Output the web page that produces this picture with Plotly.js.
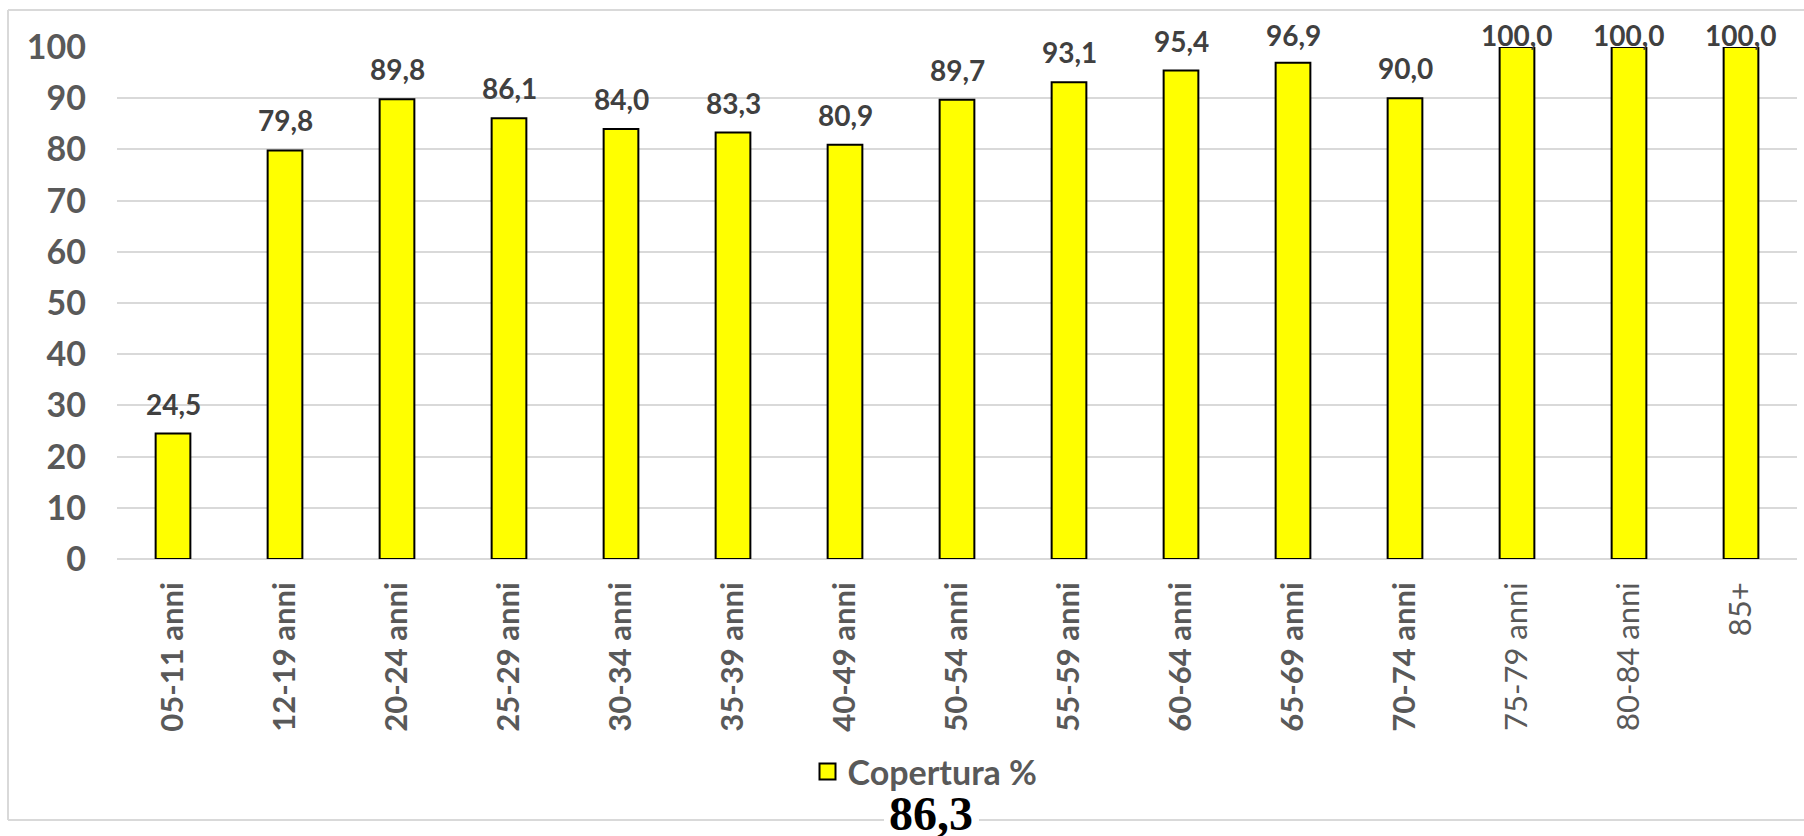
<!DOCTYPE html>
<html>
<head>
<meta charset="utf-8">
<script src="https://cdn.plot.ly/plotly-3.0.1.min.js"></script>
<style>html,body{margin:0;padding:0;background:#fff;}</style>
</head>
<body>
<div id="chart" style="width:1804px;height:836px;"></div>
<script>
// ---- data ----
const categories = ["05-11 anni","12-19 anni","20-24 anni","25-29 anni","30-34 anni","35-39 anni","40-49 anni","50-54 anni","55-59 anni","60-64 anni","65-69 anni","70-74 anni","75-79 anni","80-84 anni","85+"];
const coverage = [24.5, 79.8, 89.8, 86.1, 84.0, 83.3, 80.9, 89.7, 93.1, 95.4, 96.9, 90.0, 100.0, 100.0, 100.0];
const seriesName = "Copertura %";
const totalCoverage = "86,3";
const yTicks = [0,10,20,30,40,50,60,70,80,90,100];

// ---- layout geometry ----
const W = 1804, H = 836;
const mL = 117, mR = 7, mT = 47, mB = 277;
const plotH = H - mT - mB;
const yMax = 100;
const pxPerUnit = plotH / yMax;

const fmt = v => v.toFixed(1).replace('.', ',');

// tick labels: last three drawn in a lighter weight, as in the source
const tickText = categories.map((c, i) => i >= 12 ? '<span style="font-weight:normal">' + c + '</span>' : c);

const barFill = '#ffff00';
const barLine = {color: '#000000', width: 2};

const bar = {
  type: 'bar',
  x: categories,
  y: coverage,
  name: seriesName,
  showlegend: false,
  marker: {color: barFill, line: barLine},
  cliponaxis: false,
  hoverinfo: 'x+y'
};

// legend entry with a larger square key (same series)
const legendKey = {
  type: 'scatter', mode: 'markers',
  x: [null], y: [null],
  name: seriesName, showlegend: true,
  marker: {symbol: 'square', size: 20, color: barFill, line: barLine},
  hoverinfo: 'skip'
};

// data labels: 18px above the bar top, clamped so they stay inside the chart area
const labelAnn = coverage.map((v, i) => {
  const lift = Math.min(18, (yMax - v) * pxPerUnit - 0.3);
  return {
    x: categories[i], y: v, xref: 'x', yref: 'y',
    text: fmt(v), showarrow: false,
    yanchor: 'bottom', xanchor: 'center',
    yshift: lift - 6, borderpad: 0,
    font: {family: 'Lato', size: 28, color: '#404040', weight: 'bold'}
  };
});

const toPaperY = px => (H - mB - px) / plotH;
const toPaperX = px => (px - mL) / (W - mL - mR);

// chart-area border (open at the bottom where the total value sits)
const borderStyle = {color: '#d9d9d9', width: 2};
const bx0 = toPaperX(8), bx1 = toPaperX(1812), by0 = toPaperY(820), by1 = toPaperY(10);
const gapL = toPaperX(884), gapR = toPaperX(979);
const border = [
  [bx0, by0, bx0, by1], [bx0, by1, bx1, by1],
  [bx0, by0, gapL, by0], [gapR, by0, bx1, by0]
].map(s => ({type: 'line', xref: 'paper', yref: 'paper', layer: 'below',
  x0: s[0], y0: s[1], x1: s[2], y1: s[3], line: borderStyle}));

const layout = {
  width: W, height: H,
  margin: {l: mL, r: mR, t: mT, b: mB},
  paper_bgcolor: '#ffffff', plot_bgcolor: '#ffffff',
  bargap: 0.69,
  showlegend: true,
  legend: {
    orientation: 'h', x: toPaperX(925), y: toPaperY(772),
    xanchor: 'center', yanchor: 'middle',
    itemsizing: 'trace', itemwidth: 30,
    font: {family: 'Lato', size: 34, color: '#595959', weight: 'bold'},
    bgcolor: 'rgba(0,0,0,0)'
  },
  xaxis: {
    type: 'category',
    tickvals: categories, ticktext: tickText,
    tickangle: -90,
    ticks: '', showgrid: false, showline: false, zeroline: false,
    ticklabelstandoff: 16,
    tickfont: {family: 'Lato', size: 31, color: '#595959', weight: 'bold'},
    fixedrange: true
  },
  yaxis: {
    range: [0, yMax],
    tickvals: yTicks,
    ticks: '',
    showgrid: true, gridcolor: '#d9d9d9', gridwidth: 2,
    zeroline: true, zerolinecolor: '#d9d9d9', zerolinewidth: 2,
    showline: false,
    ticklabelstandoff: 30,
    tickfont: {family: 'Lato', size: 34, color: '#595959', weight: 'bold'},
    fixedrange: true
  },
  shapes: border,
  annotations: labelAnn.concat([{
    xref: 'paper', yref: 'paper', x: toPaperX(931), y: toPaperY(813),
    xanchor: 'center', yanchor: 'middle', showarrow: false,
    text: totalCoverage, borderpad: 0,
    font: {family: 'Liberation Serif', size: 48, color: '#000000', weight: 'bold'}
  }])
};

Plotly.newPlot('chart', [bar, legendKey], layout, {displayModeBar: false, staticPlot: true});
</script>
</body>
</html>
